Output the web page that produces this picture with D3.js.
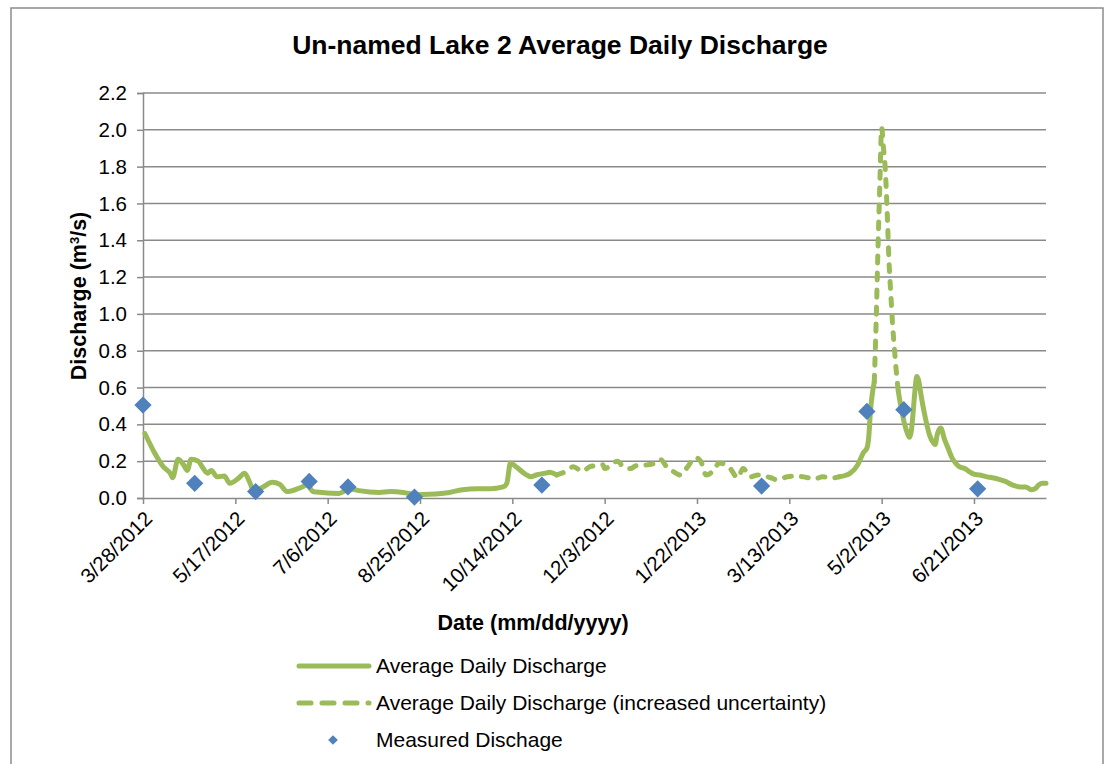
<!DOCTYPE html>
<html>
<head>
<meta charset="utf-8">
<script src="https://cdn.jsdelivr.net/npm/d3@7"></script>
<style>
  html, body { margin: 0; padding: 0; background: #fff; }
  svg { display: block; font-family: "Liberation Sans", Arial, sans-serif; }
</style>
</head>
<body>
<svg id="chart" width="1115" height="764"></svg>
<script>
// ---------- data ----------
const xTickLabels = ["3/28/2012","5/17/2012","7/6/2012","8/25/2012","10/14/2012","12/3/2012","1/22/2013","3/13/2013","5/2/2013","6/21/2013"];
const yTickValues = [0,0.2,0.4,0.6,0.8,1.0,1.2,1.4,1.6,1.8,2.0,2.2];

// Average Daily Discharge (solid) – segment 1
const solid1 = [
  ["3/29/2012",0.35],["3/30/2012",0.33],["4/3/2012",0.25],["4/8/2012",0.17],["4/12/2012",0.13],
  ["4/13/2012",0.11],["4/16/2012",0.21],["4/19/2012",0.18],["4/21/2012",0.15],["4/23/2012",0.21],
  ["4/27/2012",0.20],["4/29/2012",0.17],["5/2/2012",0.135],["5/4/2012",0.15],["5/7/2012",0.115],
  ["5/11/2012",0.12],["5/14/2012",0.08],["5/19/2012",0.11],["5/22/2012",0.135],["5/25/2012",0.08],
  ["5/27/2012",0.035],["6/1/2012",0.06],["6/6/2012",0.085],["6/10/2012",0.075],["6/14/2012",0.035],
  ["6/21/2012",0.055],["6/25/2012",0.07],["6/28/2012",0.035],["7/3/2012",0.03],["7/12/2012",0.025],
  ["7/18/2012",0.05],["7/23/2012",0.04],["8/3/2012",0.03],["8/9/2012",0.035],["8/16/2012",0.03],
  ["8/23/2012",0.018],["8/30/2012",0.02],["9/10/2012",0.03],["9/17/2012",0.045],["9/25/2012",0.05],
  ["10/2/2012",0.05],["10/9/2012",0.06],["10/11/2012",0.08],["10/13/2012",0.19],["10/16/2012",0.17],
  ["10/21/2012",0.13],["10/24/2012",0.115],["10/27/2012",0.125],["11/1/2012",0.135],["11/3/2012",0.14],
  ["11/7/2012",0.125]
];
// Average Daily Discharge (increased uncertainty) – segment 1
const dashed1 = [
  ["11/7/2012",0.125],["11/13/2012",0.15],["11/16/2012",0.17],["11/21/2012",0.145],["11/25/2012",0.17],
  ["12/2/2012",0.18],["12/3/2012",0.16],["12/10/2012",0.20],["12/13/2012",0.17],["12/17/2012",0.16],
  ["12/20/2012",0.175],["12/26/2012",0.18],["12/29/2012",0.185],["1/2/2013",0.21],["1/6/2013",0.165],
  ["1/9/2013",0.145],["1/13/2013",0.125],["1/17/2013",0.17],["1/21/2013",0.22],["1/24/2013",0.20],
  ["1/27/2013",0.125],["1/31/2013",0.15],["2/3/2013",0.19],["2/9/2013",0.16],["2/13/2013",0.11],
  ["2/16/2013",0.16],["2/20/2013",0.115],["2/24/2013",0.125],["3/3/2013",0.11],["3/6/2013",0.10],
  ["3/12/2013",0.115],["3/17/2013",0.12],["3/23/2013",0.11],["3/27/2013",0.105],["3/31/2013",0.115],
  ["4/6/2013",0.11],["4/9/2013",0.115]
];
// solid – segment 2
const solid2 = [
  ["4/9/2013",0.115],["4/13/2013",0.125],["4/15/2013",0.135],["4/19/2013",0.18],["4/20/2013",0.20],
  ["4/22/2013",0.245],["4/24/2013",0.27],["4/25/2013",0.33],["4/26/2013",0.48],["4/27/2013",0.57],
  ["4/28/2013",0.63]
];
// dashed – segment 2 (spring peak)
const dashed2 = [
  ["4/28/2013",0.63],["4/29/2013",0.95],["4/30/2013",1.35],["5/1/2013",1.70],["5/2/2013",2.01],
  ["5/3/2013",1.90],["5/4/2013",1.78],["5/5/2013",1.55],["5/6/2013",1.28],["5/7/2013",1.10],
  ["5/8/2013",0.93],["5/9/2013",0.80],["5/10/2013",0.68],["5/11/2013",0.58]
];
// solid – segment 3
const solid3 = [
  ["5/11/2013",0.58],["5/12/2013",0.52],["5/13/2013",0.47],["5/14/2013",0.42],["5/15/2013",0.38],
  ["5/16/2013",0.35],["5/17/2013",0.33],["5/18/2013",0.36],["5/19/2013",0.46],["5/20/2013",0.58],
  ["5/21/2013",0.66],["5/22/2013",0.64],["5/23/2013",0.58],["5/24/2013",0.52],["5/26/2013",0.42],
  ["5/28/2013",0.34],["5/30/2013",0.30],["5/31/2013",0.29],["6/1/2013",0.34],["6/2/2013",0.37],
  ["6/3/2013",0.38],["6/5/2013",0.32],["6/7/2013",0.27],["6/9/2013",0.22],["6/11/2013",0.19],
  ["6/13/2013",0.17],["6/16/2013",0.16],["6/19/2013",0.14],["6/21/2013",0.13],["6/24/2013",0.125],
  ["6/28/2013",0.115],["7/1/2013",0.11],["7/5/2013",0.10],["7/8/2013",0.09],["7/12/2013",0.07],
  ["7/16/2013",0.06],["7/19/2013",0.06],["7/22/2013",0.045],["7/24/2013",0.05],["7/26/2013",0.07],
  ["7/28/2013",0.08],["7/30/2013",0.08]
];
// Measured Dischage
const measuredDates  = ["3/28/2012","4/25/2012","5/28/2012","6/26/2012","7/17/2012","8/22/2012","10/30/2012","2/26/2013","4/24/2013","5/14/2013","6/23/2013"];
const measuredValues = [0.505,0.08,0.035,0.09,0.06,0.005,0.07,0.065,0.47,0.48,0.05];

// ---------- drawing ----------
const parse = d3.timeParse("%m/%d/%Y");
const svg = d3.select("#chart");
const GREEN = "#9BBB59", BLUE = "#4F81BD", GRID = "#8a8a8a";
const FONT = "'Liberation Sans', Arial, sans-serif";

const pLeft = 143, pRight = 1046, pTop = 93, pBottom = 498;
const x = d3.scaleTime().domain([parse("3/28/2012"), parse("7/30/2013")]).range([pLeft, pRight]);
const y = d3.scaleLinear().domain([0, 2.2]).range([pBottom, pTop]);

// outer chart border
svg.append("rect").attr("x", 11).attr("y", 8).attr("width", 1092).attr("height", 800)
  .attr("fill", "none").attr("stroke", "#8c8c8c").attr("stroke-width", 1.5);

// title
svg.append("text").attr("x", 560).attr("y", 54).attr("text-anchor", "middle")
  .attr("font-size", 26.5).attr("font-weight", "bold").attr("fill", "#000")
  .text("Un-named Lake 2 Average Daily Discharge");

// horizontal gridlines
svg.append("g").selectAll("line").data(yTickValues.filter(v => v > 0)).join("line")
  .attr("x1", pLeft).attr("x2", pRight).attr("y1", d => y(d)).attr("y2", d => y(d))
  .attr("stroke", GRID).attr("stroke-width", 1.5);

// y axis
const yAxis = d3.axisLeft(y).tickValues(yTickValues).tickFormat(d3.format(".1f")).tickSize(6).tickPadding(10);
const gy = svg.append("g").attr("transform", `translate(${pLeft},0)`).call(yAxis);
gy.select(".domain").attr("stroke", GRID).attr("stroke-width", 1.5);
gy.selectAll(".tick line").attr("stroke", GRID).attr("stroke-width", 1.5);
gy.selectAll(".tick text").attr("font-size", 20.5).attr("fill", "#000").attr("font-family", FONT);

// x axis
const xTicks = xTickLabels.map(parse);
const xAxis = d3.axisBottom(x).tickValues(xTicks).tickFormat((d, i) => xTickLabels[i]).tickSize(6).tickSizeOuter(0);
const gx = svg.append("g").attr("transform", `translate(0,${pBottom})`).call(xAxis);
gx.select(".domain").attr("stroke", GRID).attr("stroke-width", 1.5);
gx.selectAll(".tick line").attr("stroke", GRID).attr("stroke-width", 1.5);
gx.selectAll(".tick text")
  .attr("font-size", 20.5).attr("fill", "#000").attr("font-family", FONT)
  .attr("text-anchor", "end").attr("dy", null).attr("y", 0)
  .attr("transform", "translate(10,22) rotate(-45)");

// axis titles
svg.append("text").attr("transform", "translate(86,296) rotate(-90)").attr("text-anchor", "middle")
  .attr("font-size", 21.5).attr("font-weight", "bold").attr("fill", "#000")
  .html('Discharge (m<tspan baseline-shift="super" font-size="13">3</tspan>/s)');
svg.append("text").attr("x", 533).attr("y", 630).attr("text-anchor", "middle")
  .attr("font-size", 21.5).attr("font-weight", "bold").attr("fill", "#000")
  .text("Date (mm/dd/yyyy)");

// lines
const toPts = arr => arr.map(([d, v]) => ({ date: parse(d), v }));
const line = d3.line().x(d => x(d.date)).y(d => y(d.v)).curve(d3.curveMonotoneX);
const plot = svg.append("g");
[solid1, solid2, solid3].forEach(seg => {
  plot.append("path").attr("d", line(toPts(seg))).attr("fill", "none")
    .attr("stroke", GREEN).attr("stroke-width", 5)
    .attr("stroke-linejoin", "round").attr("stroke-linecap", "round");
});
[dashed1, dashed2].forEach(seg => {
  plot.append("path").attr("d", line(toPts(seg))).attr("fill", "none")
    .attr("stroke", GREEN).attr("stroke-width", 5)
    .attr("stroke-dasharray", "7,10")
    .attr("stroke-linejoin", "round").attr("stroke-linecap", "round");
});

// measured points (diamonds)
const diamond = d3.symbol().type(d3.symbolDiamond2).size(190);
plot.append("g").selectAll("path").data(measuredDates.map((d, i) => ({ date: parse(d), v: measuredValues[i] })))
  .join("path").attr("d", diamond)
  .attr("transform", d => `translate(${x(d.date)},${y(d.v)})`)
  .attr("fill", BLUE);

// legend
const legend = svg.append("g");
const legendItems = [
  { label: "Average Daily Discharge", type: "solid", y: 666 },
  { label: "Average Daily Discharge (increased uncertainty)", type: "dashed", y: 703 },
  { label: "Measured Dischage", type: "point", y: 740 }
];
legendItems.forEach(it => {
  if (it.type === "solid") {
    legend.append("line").attr("x1", 299).attr("x2", 369).attr("y1", it.y).attr("y2", it.y)
      .attr("stroke", GREEN).attr("stroke-width", 5).attr("stroke-linecap", "round");
  } else if (it.type === "dashed") {
    legend.append("line").attr("x1", 299).attr("x2", 369).attr("y1", it.y).attr("y2", it.y)
      .attr("stroke", GREEN).attr("stroke-width", 5).attr("stroke-linecap", "round")
      .attr("stroke-dasharray", "12,11");
  } else {
    legend.append("path").attr("d", d3.symbol().type(d3.symbolDiamond2).size(60))
      .attr("transform", `translate(333,${it.y})`).attr("fill", BLUE);
  }
  legend.append("text").attr("x", 376).attr("y", it.y).attr("dy", "0.35em")
    .attr("font-size", 21).attr("fill", "#000").attr("font-family", FONT).text(it.label);
});
</script>
</body>
</html>
